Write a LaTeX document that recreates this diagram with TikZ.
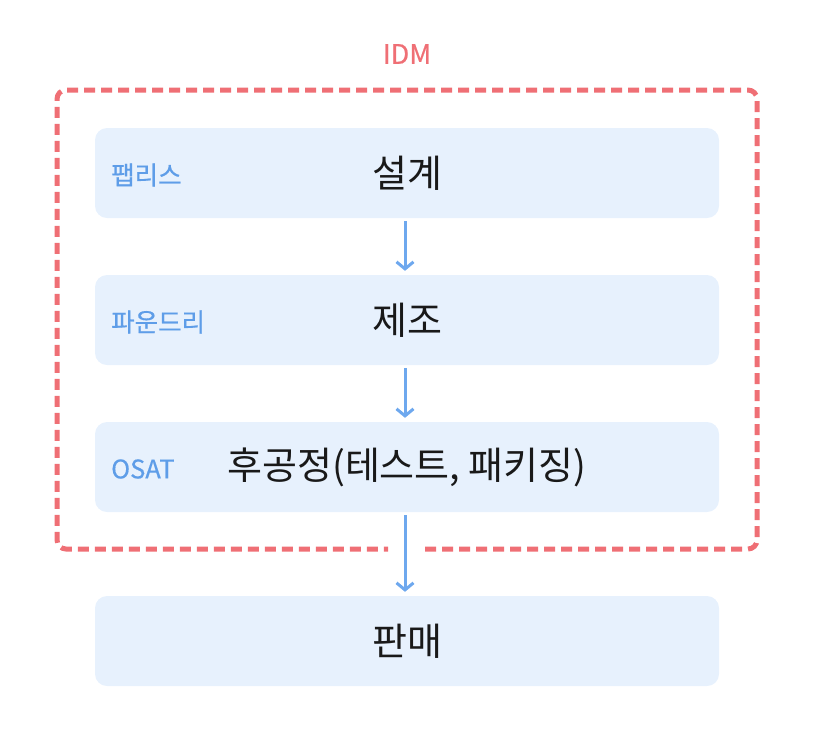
\documentclass[tikz,border=0pt]{standalone}
\usepackage{fontspec}
\setmainfont{Noto Sans CJK KR}
\newfontfamily\labfont[FakeBold=0.6]{Noto Sans CJK KR}
\usetikzlibrary{arrows.meta}
\definecolor{idmred}{HTML}{EF6F75}
\definecolor{labblue}{HTML}{5E9DE8}
\definecolor{boxfill}{HTML}{E7F1FD}
\definecolor{arrblue}{HTML}{6EA8EE}
\tikzset{
  stagebox/.style={fill=boxfill, rounded corners=12pt, minimum width=624pt, minimum height=90pt, inner sep=0pt, font=\fontsize{38}{44}\selectfont, text=black!90},
  sidelabel/.style={anchor=west, text=labblue, inner sep=0pt, font=\labfont\fontsize{25.5}{30}\selectfont},
  flowarrow/.style={draw=arrblue, line width=3pt, -{Straight Barb[length=7pt,width=17pt,line width=3pt]}, shorten <=3pt, shorten >=4pt},
  idmline/.style={draw=idmred, line width=5pt, dash pattern=on 11pt off 6pt, rounded corners=9pt}
}
\begin{document}
\begin{tikzpicture}[x=1pt,y=-1pt]
\useasboundingbox (0,0) rectangle (818,732);
% IDM dashed frame with gap
\coordinate (gapR) at (425,549);
\coordinate (gapL) at (388,549);
\draw[idmline] (gapR) -- (757,549) -- (757,90) -- (57,90) -- (57,549) -- (gapL);
\node[text=idmred, font=\labfont\fontsize{27}{30}\selectfont] (idm) at (407,54) {IDM};
% stages
\node[stagebox] (s1) at (407,173) {설계};
\node[stagebox] (s2) at (407,320) {제조};
\node[stagebox] (s3) at (407,467) {후공정(테스트, 패키징)};
\node[stagebox] (s4) at (407,641) {판매};
% side labels
\node[sidelabel] (l1) at (111,175) {팹리스};
\node[sidelabel] (l2) at (111,322) {파운드리};
\node[sidelabel] (l3) at (111,469) {OSAT};
% arrows
\draw[flowarrow] ([xshift=-2pt]s1.south) -- ([xshift=-2pt]s2.north);
\draw[flowarrow] ([xshift=-2pt]s2.south) -- ([xshift=-2pt]s3.north);
\draw[flowarrow] ([xshift=-2pt]s3.south) -- ([xshift=-2pt]s4.north);
\end{tikzpicture}
\end{document}
